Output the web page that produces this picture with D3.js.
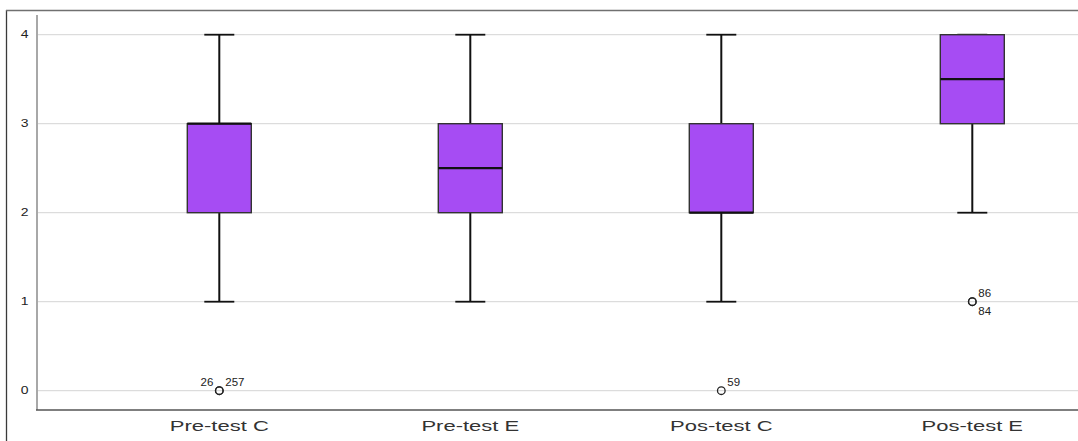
<!DOCTYPE html>
<html>
<head>
<meta charset="utf-8">
<script src="https://cdn.jsdelivr.net/npm/d3@7"></script>
<style>
  html, body { margin: 0; padding: 0; background: #fff; }
  svg { display: block; }
</style>
</head>
<body>
<svg id="chart" width="1078" height="441"></svg>
<script>
// ---- data ----
const categories = ["Pre-test C", "Pre-test E", "Pos-test C", "Pos-test E"];
const whiskerLow = [1, 1, 1, 2];
const q1 = [2, 2, 2, 3];
const median = [3, 2.5, 2, 3.5];
const q3 = [3, 3, 3, 4];
const whiskerHigh = [4, 4, 4, 4];
const outlierCategory = ["Pre-test C", "Pre-test C", "Pos-test C", "Pos-test E", "Pos-test E"];
const outlierValue = [0, 0, 0, 1, 1];
const outlierLabel = ["26", "257", "59", "86", "84"];
const outlierLabelSide = ["left", "right", "right", "right", "below"];
const yTicks = [0, 1, 2, 3, 4];

// ---- layout ----
const svg = d3.select("#chart");
const W = 1078, H = 441;
const axisX = 37, axisY = 410;
const boxW = 64, capW = 30;
const purple = "#a64cf3";

const y = d3.scaleLinear().domain([0, 4]).range([390.7, 34.7]);
const x = d3.scaleBand().domain(categories).range([93.8, 1097.8]).padding(0);
const cx = c => x(c) + x.bandwidth() / 2;

// outer frame
svg.append("line").attr("x1", 6.5).attr("x2", 6.5).attr("y1", 10).attr("y2", H)
  .attr("stroke", "#3a3a3a").attr("stroke-width", 1.3);
svg.append("line").attr("x1", 6).attr("x2", W).attr("y1", 10.5).attr("y2", 10.5)
  .attr("stroke", "#707070").attr("stroke-width", 1.5);

// gridlines
svg.append("g").selectAll("line").data(yTicks).join("line")
  .attr("x1", axisX).attr("x2", W)
  .attr("y1", d => y(d)).attr("y2", d => y(d))
  .attr("stroke", "#d4d4d4").attr("stroke-width", 1);

// y axis
const yAxis = svg.append("g").attr("transform", `translate(${axisX},0)`)
  .call(d3.axisLeft(y).tickValues(yTicks).tickSize(0).tickPadding(6).tickFormat(d3.format("d")));
yAxis.select(".domain").remove();
yAxis.selectAll("text")
  .attr("font-family", "Liberation Sans, Arial, sans-serif")
  .attr("font-size", 10)
  .attr("fill", "#222")
  .attr("transform", "scale(1.4,1)");

svg.append("line").attr("x1", axisX).attr("x2", axisX).attr("y1", 15).attr("y2", axisY)
  .attr("stroke", "#a8a8a8").attr("stroke-width", 2);

// x axis
const xAxis = svg.append("g").attr("transform", `translate(0,${axisY})`)
  .call(d3.axisBottom(x).tickSize(0).tickPadding(10).tickSizeOuter(0));
xAxis.select(".domain").remove();
xAxis.selectAll(".tick").attr("transform", d => `translate(${cx(d)},0)`);
xAxis.selectAll("text")
  .attr("font-family", "Liberation Sans, Arial, sans-serif")
  .attr("font-size", 15.5)
  .attr("fill", "#333")
  .attr("transform", "scale(1.42,1)");
svg.append("line").attr("x1", axisX - 1).attr("x2", W).attr("y1", axisY).attr("y2", axisY)
  .attr("stroke", "#555").attr("stroke-width", 1.3);

// boxes
const rows = categories.map((c, i) => ({
  c, lo: whiskerLow[i], q1: q1[i], med: median[i], q3: q3[i], hi: whiskerHigh[i]
}));
const g = svg.append("g");
const bx = g.selectAll("g.box").data(rows).join("g").attr("class", "box");

// whiskers
bx.append("line").attr("x1", d => cx(d.c)).attr("x2", d => cx(d.c))
  .attr("y1", d => y(d.q3)).attr("y2", d => y(d.hi))
  .attr("stroke", "#111").attr("stroke-width", 2);
bx.append("line").attr("x1", d => cx(d.c)).attr("x2", d => cx(d.c))
  .attr("y1", d => y(d.q1)).attr("y2", d => y(d.lo))
  .attr("stroke", "#111").attr("stroke-width", 2);
// caps
bx.append("line").attr("x1", d => cx(d.c) - capW / 2).attr("x2", d => cx(d.c) + capW / 2)
  .attr("y1", d => y(d.hi)).attr("y2", d => y(d.hi))
  .attr("stroke", "#111").attr("stroke-width", 1.8);
bx.append("line").attr("x1", d => cx(d.c) - capW / 2).attr("x2", d => cx(d.c) + capW / 2)
  .attr("y1", d => y(d.lo)).attr("y2", d => y(d.lo))
  .attr("stroke", "#111").attr("stroke-width", 1.8);
// box
bx.append("rect")
  .attr("x", d => cx(d.c) - boxW / 2).attr("width", boxW)
  .attr("y", d => y(d.q3)).attr("height", d => y(d.q1) - y(d.q3))
  .attr("fill", purple).attr("stroke", "#333").attr("stroke-width", 1.4);
// median
bx.append("line").attr("x1", d => cx(d.c) - boxW / 2).attr("x2", d => cx(d.c) + boxW / 2)
  .attr("y1", d => y(d.med)).attr("y2", d => y(d.med))
  .attr("stroke", "#111").attr("stroke-width", 2.2);

// outliers
const outs = outlierLabel.map((l, i) => ({
  c: outlierCategory[i], v: outlierValue[i], l, side: outlierLabelSide[i]
}));
g.selectAll("circle.out").data(outs).join("circle").attr("class", "out")
  .attr("cx", d => cx(d.c)).attr("cy", d => y(d.v)).attr("r", 3.8)
  .attr("fill", "none").attr("stroke", "#222").attr("stroke-width", 1.3);
g.selectAll("text.olab").data(outs).join("text").attr("class", "olab")
  .attr("x", d => d.side === "left" ? cx(d.c) - 6 : cx(d.c) + 6)
  .attr("y", d => d.side === "below" ? y(d.v) + 13 : y(d.v) - 5)
  .attr("text-anchor", d => d.side === "left" ? "end" : "start")
  .attr("font-family", "Liberation Sans, Arial, sans-serif")
  .attr("font-size", 11.5)
  .attr("fill", "#222")
  .text(d => d.l);
</script>
</body>
</html>
